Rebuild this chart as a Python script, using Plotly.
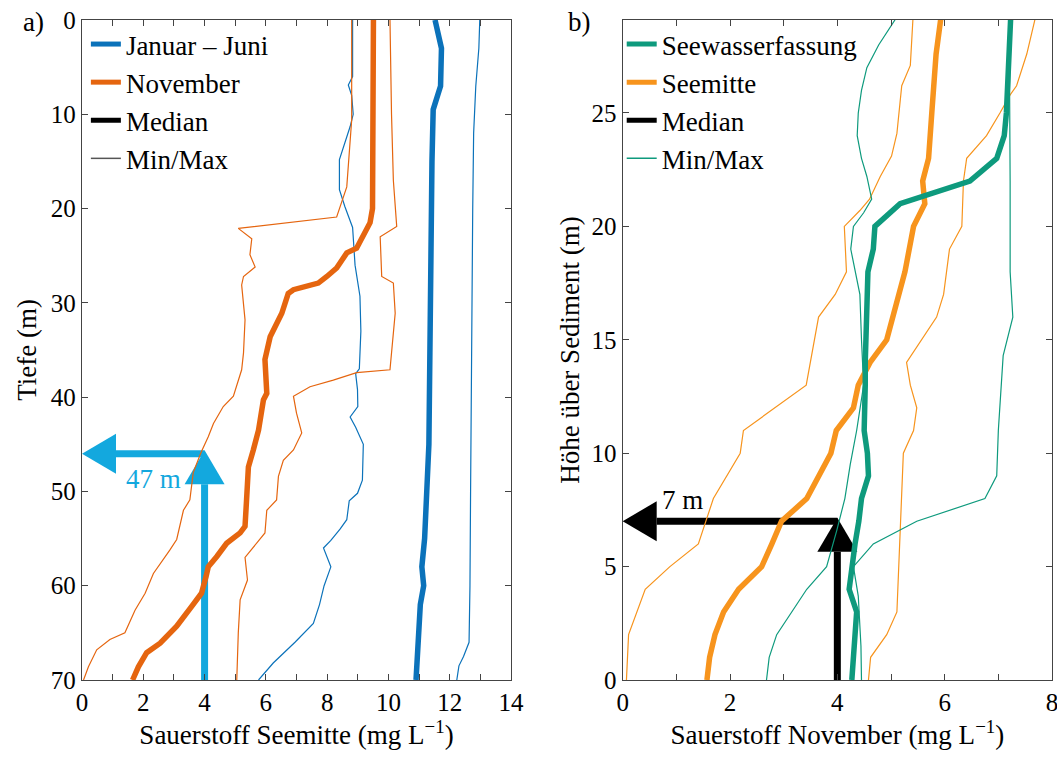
import plotly.graph_objects as go

# ---------------- Panel a: Sauerstoff Seemitte vs Tiefe ----------------
# Januar - Juni (blue)
depth_jj_med = [0, 2, 3, 7, 9.5, 15, 20, 25, 30, 35, 40, 45, 50, 55, 58, 60, 62, 65, 70]
o2_jj_med = [11.52, 11.66, 11.73, 11.70, 11.46, 11.42, 11.40, 11.39, 11.38, 11.36, 11.34, 11.32,
             11.25, 11.18, 11.09, 11.15, 11.04, 11.00, 10.90]
depth_jj_max = [0, 3, 7, 12, 20, 30, 40, 50, 60, 66, 67.5, 68.5, 70]
o2_jj_max = [12.98, 12.95, 12.85, 12.78, 12.75, 12.72, 12.70, 12.68, 12.66, 12.63, 12.45, 12.30, 12.23]
depth_jj_min = [0, 6, 6.9, 8, 10, 11.3, 14.8, 18, 19.8, 22, 24.5, 26, 29.3, 33, 37, 37.5, 39.2, 41,
                42.1, 43.2, 45, 48.8, 50.2, 51, 53, 54, 55.2, 56, 58, 60, 62, 64, 66, 68.2, 70]
o2_jj_min = [8.83, 8.83, 8.69, 8.80, 8.85, 8.75, 8.40, 8.40, 8.58, 8.83, 8.88, 8.91, 9.07, 9.10, 9.05,
             8.93, 8.99, 9.00, 8.75, 8.93, 9.18, 9.15, 8.99, 8.72, 8.64, 8.42, 8.12, 7.88, 8.12, 7.90,
             7.75, 7.55, 6.95, 6.24, 5.76]

# November (orange)
depth_nov_med = [0, 10, 17, 20, 21.5, 23.3, 24.2, 24.7, 25.6, 26.3, 27.2, 27.9, 28.6, 29, 31.1, 33.6,
                 36, 39.6, 40.3, 43.5, 45.6, 47.4, 50.9, 53.7, 54.4, 55.5, 56.9, 58, 59, 60.8, 62.2,
                 64.3, 66.1, 67.1, 68.6, 70]
o2_nov_med = [9.51, 9.50, 9.50, 9.48, 9.40, 9.13, 8.96, 8.64, 8.47, 8.31, 7.99, 7.71, 6.90, 6.73, 6.52,
              6.14, 5.97, 6.03, 5.92, 5.76, 5.59, 5.43, 5.37, 5.32, 5.16, 4.72, 4.40, 4.12, 4.05, 3.90,
              3.58, 3.09, 2.55, 2.11, 1.84, 1.65]
depth_nov_min = [0, 10.6, 17.7, 20.9, 22.1, 23.2, 24.9, 26.2, 27.2, 28.1, 31.8, 35.3, 37.1, 39.9, 41,
                 42.8, 44.2, 45.9, 48, 50.9, 52, 55.1, 56.2, 58.7, 60.8, 62.6, 65, 65.7, 66.8, 68.6, 70]
o2_nov_min = [8.80, 8.80, 8.64, 8.31, 5.10, 5.54, 5.48, 5.65, 5.27, 5.21, 5.32, 5.27, 5.21, 4.94, 4.61,
              4.29, 4.12, 3.88, 3.63, 3.52, 3.31, 3.09, 2.87, 2.33, 2.06, 1.73, 1.40, 0.91, 0.48, 0.21,
              0.05]
depth_nov_max = [0, 10, 17, 21.9, 23, 27.2, 27.9, 31.1, 37.1, 37.4, 38.2, 38.9, 39.9, 41.7, 43.8, 45.6,
                 46.7, 48.4, 50.9, 52, 54.4, 55.9, 57, 59.4, 61.5, 65, 70]
o2_nov_max = [10.05, 10.10, 10.16, 10.27, 9.73, 9.78, 10.16, 10.22, 10.05, 8.96, 8.20, 7.44, 6.90, 7.00,
              7.17, 6.90, 6.57, 6.41, 6.35, 6.03, 5.97, 5.59, 5.32, 5.40, 5.16, 5.10, 5.05]

# ---------------- Panel b: Sauerstoff November vs Hoehe ----------------
# Seewasserfassung (teal)
h_sw_med = [0, 1, 2, 3, 4, 5, 6, 7, 8, 9, 10, 11, 12, 13, 14, 15, 16, 17, 18, 19, 20, 21, 22, 23, 24,
            25, 26, 27, 28, 29.2]
o2_sw_med = [4.27, 4.30, 4.33, 4.36, 4.22, 4.27, 4.33, 4.40, 4.45, 4.58, 4.56, 4.50, 4.52, 4.52, 4.52,
             4.53, 4.53, 4.55, 4.57, 4.67, 4.70, 5.17, 6.47, 6.97, 7.11, 7.15, 7.17, 7.19, 7.21, 7.23]
h_sw_max = [0, 1.5, 3.7, 5, 6, 7, 8, 9, 11, 14.3, 16, 18, 22, 26, 29.2]
o2_sw_max = [4.45, 4.44, 4.39, 4.30, 4.67, 5.48, 6.75, 6.97, 7.00, 7.09, 7.27, 7.22, 7.22, 7.21, 7.23]
h_sw_min = [0, 1, 2, 3, 4, 5, 6.6, 8, 9.5, 11, 13, 15, 17, 19, 20, 20.6, 21.2, 22.2, 23, 24, 25, 26,
            27, 28, 29.2]
o2_sw_min = [2.68, 2.73, 2.87, 3.15, 3.43, 3.80, 3.99, 4.14, 4.24, 4.36, 4.49, 4.45, 4.42, 4.25, 4.30,
             4.49, 4.64, 4.55, 4.45, 4.37, 4.39, 4.45, 4.55, 4.77, 5.10]

# Seemitte (orange)
h_sm_med = [0, 1, 2, 3, 4, 5, 6, 7, 8, 10, 11, 12, 13, 14, 15, 17, 18, 20, 21, 22, 23, 25, 27.6, 29.2]
o2_sm_med = [1.57, 1.62, 1.72, 1.88, 2.16, 2.59, 2.78, 2.96, 3.43, 3.88, 3.98, 4.30, 4.39, 4.61, 4.92,
             5.13, 5.26, 5.42, 5.63, 5.59, 5.70, 5.76, 5.84, 5.93]
h_sm_min = [0, 2, 4, 5, 6, 8, 10, 11, 13, 16, 17, 18, 20, 20.7, 21.2, 22.2, 23.1, 24.1, 26.2, 27.1, 29.2]
o2_sm_min = [0.07, 0.11, 0.42, 0.88, 1.41, 1.69, 2.19, 2.25, 3.42, 3.65, 3.96, 4.17, 4.13, 4.42, 4.60,
             4.80, 5.01, 5.11, 5.20, 5.36, 5.41]
h_sm_max = [0, 1, 2, 3, 10, 11, 12, 13, 14, 16, 17, 19, 20, 22, 23, 24, 25, 25.8, 26.2, 27.6, 29.2]
o2_sm_max = [4.58, 4.62, 4.92, 5.11, 5.23, 5.42, 5.48, 5.36, 5.29, 5.85, 5.98, 6.09, 6.32, 6.35, 6.41,
             6.78, 7.03, 7.22, 7.34, 7.53, 7.69]

# Arrow markers (threshold positions)
arrow_a_x, arrow_a_depth, arrow_a_label = 4.0, 46.0, "47 m"
arrow_b_x, arrow_b_height, arrow_b_label = 4.0, 7.0, "7 m"

# Axis settings
xa_range, ya_range = [0, 14], [70, 0]
xb_range, yb_range = [0, 8], [0, 29.1]

# Styles
C_BLUE = "#0B72BA"
C_NOV = "#E5650F"
C_TEAL = "#0E9A7D"
C_SM = "#F7941D"
C_CYAN = "#13A8DE"
W_THICK = 5.5
W_THIN = 1.2
FONT = "Liberation Serif"
AXC = "#444444"
FS_TICK = 25
FS_TEXT = 27

W, H = 1057, 758
ML, MR, MT, MB = 82, 5, 20, 78
PW = W - ML - MR
PH = H - MT - MB
dom_a = [0.0, 0.4423]
dom_b = [0.5574, 1.0]

fig = go.Figure()


def line(x, y, color, width, xa="x", ya="y"):
    fig.add_trace(go.Scatter(x=x, y=y, mode="lines", line=dict(color=color, width=width),
                             xaxis=xa, yaxis=ya, showlegend=False, hoverinfo="skip"))


# panel a traces
line(o2_jj_min, depth_jj_min, C_BLUE, W_THIN)
line(o2_jj_max, depth_jj_max, C_BLUE, W_THIN)
line(o2_nov_min, depth_nov_min, C_NOV, W_THIN)
line(o2_nov_max, depth_nov_max, C_NOV, W_THIN)
line(o2_jj_med, depth_jj_med, C_BLUE, W_THICK)
line(o2_nov_med, depth_nov_med, C_NOV, W_THICK)

# panel b traces
line(o2_sm_min, h_sm_min, C_SM, W_THIN, "x2", "y2")
line(o2_sm_max, h_sm_max, C_SM, W_THIN, "x2", "y2")
line(o2_sw_min, h_sw_min, C_TEAL, W_THIN, "x2", "y2")
line(o2_sw_max, h_sw_max, C_TEAL, W_THIN, "x2", "y2")
line(o2_sm_med, h_sm_med, C_SM, W_THICK, "x2", "y2")
line(o2_sw_med, h_sw_med, C_TEAL, W_THICK, "x2", "y2")


# legends (dummy entries)
def leg(name, color, width, legend, xa, ya):
    fig.add_trace(go.Scatter(x=[None], y=[None], mode="lines", name=name,
                             line=dict(color=color, width=width), legend=legend,
                             legendgroup=name + legend, xaxis=xa, yaxis=ya))


leg("Januar – Juni", C_BLUE, 5, "legend", "x", "y")
leg("November", C_NOV, 5, "legend", "x", "y")
leg("Median", "black", 5, "legend", "x", "y")
leg("Min/Max", "#555555", 1.5, "legend", "x", "y")
leg("Seewasserfassung", C_TEAL, 5, "legend2", "x2", "y2")
leg("Seemitte", C_SM, 5, "legend2", "x2", "y2")
leg("Median", "black", 5, "legend2", "x2", "y2")
leg("Min/Max", C_TEAL, 1.5, "legend2", "x2", "y2")


# arrows drawn as shapes beneath the data lines
def add_arrow(xref, yref, x0, y_turn, xr, yr, dom, up_sign, color):
    sx = abs(xr[1] - xr[0]) / (PW * (dom[1] - dom[0]))
    sy = abs(yr[1] - yr[0]) / PH
    shaft, head_w, head_l = 7, 40, 34
    y_start = yr[0]
    tip_y = y_turn + up_sign * (shaft / 2) * sy
    base_y = tip_y - up_sign * head_l * sy
    fig.add_shape(type="line", xref=xref, yref=yref, x0=x0, x1=x0, y0=y_start, y1=base_y,
                  line=dict(color=color, width=shaft), layer="below")
    fig.add_shape(type="path", xref=xref, yref=yref, layer="below", fillcolor=color,
                  line=dict(color=color, width=0),
                  path=f"M {x0 - head_w / 2 * sx},{base_y} L {x0 + head_w / 2 * sx},{base_y} L {x0},{tip_y} Z")
    x_end = xr[0]
    hb = x_end + head_l * sx
    fig.add_shape(type="line", xref=xref, yref=yref, x0=x0, x1=hb, y0=y_turn, y1=y_turn,
                  line=dict(color=color, width=shaft), layer="below")
    fig.add_shape(type="path", xref=xref, yref=yref, layer="below", fillcolor=color,
                  line=dict(color=color, width=0),
                  path=f"M {hb},{y_turn - head_w / 2 * sy} L {hb},{y_turn + head_w / 2 * sy} L {x_end},{y_turn} Z")
    return sx, sy


sxa, sya = add_arrow("x", "y", arrow_a_x, arrow_a_depth, xa_range, ya_range, dom_a, -1, C_CYAN)
sxb, syb = add_arrow("x2", "y2", arrow_b_x, arrow_b_height, xb_range, yb_range, dom_b, 1, "black")

fig.add_annotation(x=xa_range[0] + 42 * sxa, y=arrow_a_depth + 25 * sya, xref="x", yref="y",
                   text=arrow_a_label, showarrow=False, xanchor="left", yanchor="middle",
                   font=dict(color=C_CYAN, size=FS_TEXT, family=FONT))
fig.add_annotation(x=xb_range[0] + 37 * sxb, y=arrow_b_height + 21 * syb, xref="x2", yref="y2",
                   text=arrow_b_label, showarrow=False, xanchor="left", yanchor="middle",
                   font=dict(color="black", size=FS_TEXT, family=FONT))

# panel labels
fig.add_annotation(x=-61 / PW, y=1 - 2 / PH, xref="paper", yref="paper", text="a)", showarrow=False,
                   xanchor="left", yanchor="middle", font=dict(size=FS_TEXT, family=FONT))
fig.add_annotation(x=(566 - ML) / PW, y=1 - 2 / PH, xref="paper", yref="paper", text="b)",
                   showarrow=False, xanchor="left", yanchor="middle", font=dict(size=FS_TEXT, family=FONT))

tick_style = dict(ticks="inside", ticklen=6, tickwidth=1.3, tickcolor=AXC)
axis_common = dict(showline=True, linecolor=AXC, linewidth=1.3, mirror="ticks", showgrid=False,
                   zeroline=False, automargin=False, ticklabeloverflow="allow",
                   tickfont=dict(size=FS_TICK, family=FONT, color="black"), **tick_style)
minor_x = dict(dtick=1, showgrid=False, **tick_style)

fig.update_layout(
    width=W, height=H, margin=dict(l=ML, r=MR, t=MT, b=MB),
    plot_bgcolor="white", paper_bgcolor="white",
    font=dict(family=FONT, size=FS_TEXT, color="black"),
    xaxis=dict(domain=dom_a, range=xa_range, anchor="y", tick0=0, dtick=2, minor=minor_x,
               title=dict(text="Sauerstoff Seemitte (mg L<sup>−1</sup>)", standoff=6,
                          font=dict(size=FS_TEXT, family=FONT)), **axis_common),
    yaxis=dict(domain=[0, 1], range=ya_range, anchor="x", tick0=0, dtick=10,
               title=dict(text="Tiefe (m)", standoff=6, font=dict(size=FS_TEXT, family=FONT)),
               **axis_common),
    xaxis2=dict(domain=dom_b, range=xb_range, anchor="y2", tick0=0, dtick=2, minor=minor_x,
                title=dict(text="Sauerstoff November (mg L<sup>−1</sup>)", standoff=6,
                           font=dict(size=FS_TEXT, family=FONT)), **axis_common),
    yaxis2=dict(domain=[0, 1], range=yb_range, anchor="x2", tick0=0, dtick=5,
                title=dict(text="Höhe über Sediment (m)", standoff=4, font=dict(size=FS_TEXT, family=FONT)),
                **axis_common),
    legend=dict(x=0.004, y=1.0, xanchor="left", yanchor="top", bgcolor="rgba(0,0,0,0)",
                font=dict(size=FS_TEXT, family=FONT), itemwidth=30, tracegroupgap=0),
    legend2=dict(x=dom_b[0] - 0.001, y=1.0, xanchor="left", yanchor="top", bgcolor="rgba(0,0,0,0)",
                 font=dict(size=FS_TEXT, family=FONT), itemwidth=30, tracegroupgap=0),
)

fig.write_html("out.html", config={"displayModeBar": False},
               post_script="document.body.style.margin='0';")
